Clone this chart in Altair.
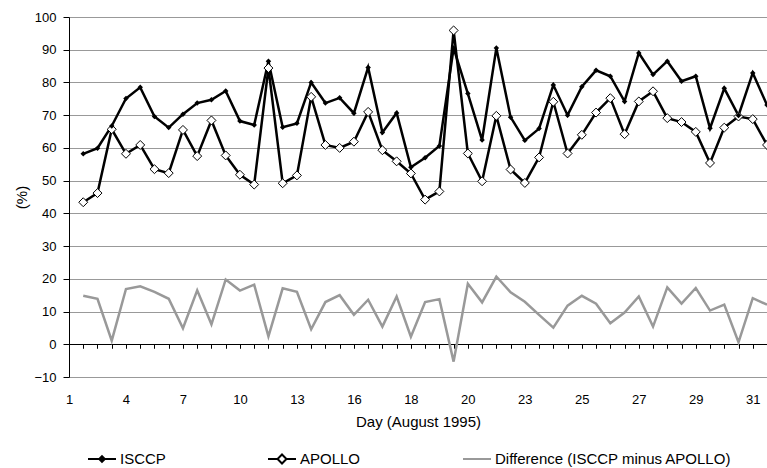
import altair as alt
import pandas as pd

day_labels = ["1", "4", "7", "10", "13", "16", "18", "20", "23", "25", "27", "29", "31"]
series_names = ["ISCCP", "APOLLO", "Difference (ISCCP minus APOLLO)"]
series_colors = ["black", "black", "#999999"]

isccp = [58.2, 59.9, 66.7, 75.1, 78.5, 69.6, 66.2, 70.3, 73.7, 74.7,
         77.4, 68.2, 67.0, 86.5, 66.3, 67.5, 80.0, 73.7, 75.3, 70.6,
         84.6, 64.7, 70.7, 54.1, 57.0, 60.6, 90.5, 76.6, 62.4, 90.5,
         69.4, 62.3, 65.9, 79.2, 70.0, 78.7, 83.7, 81.9, 74.2, 89.0,
         82.4, 86.5, 80.4, 81.9, 66.0, 78.2, 69.9, 82.9, 73.1]
apollo = [43.4, 46.2, 65.7, 58.2, 60.9, 53.5, 52.3, 65.5, 57.5, 68.4,
          57.7, 51.8, 48.8, 84.4, 49.2, 51.6, 75.6, 60.9, 60.0, 61.9,
          71.0, 59.3, 55.9, 52.2, 44.2, 46.7, 95.9, 58.3, 49.8, 69.8,
          53.4, 49.3, 57.1, 74.1, 58.3, 64.0, 70.8, 75.2, 64.2, 74.2,
          77.3, 69.1, 67.9, 64.9, 55.4, 66.2, 69.6, 68.8, 60.9]
diff = [14.8, 13.9, 1.1, 16.9, 17.7, 16.0, 13.9, 4.9, 16.5, 6.1,
        19.8, 16.4, 18.2, 2.4, 17.1, 16.0, 4.6, 12.9, 15.0, 9.0,
        13.6, 5.4, 14.6, 2.3, 12.9, 13.8, -5.3, 18.5, 12.8, 20.7,
        15.9, 13.0, 9.0, 5.1, 11.8, 14.8, 12.4, 6.4, 9.7, 14.6,
        5.4, 17.4, 12.4, 17.2, 10.3, 12.1, 0.6, 14.1, 12.1]

rows = []
for name, vals in zip(series_names, [isccp, apollo, diff]):
    for i, v in enumerate(vals):
        rows.append({"idx": i + 1, "series": name, "value": v})
df = pd.DataFrame(rows)

n = len(isccp)
label_arr = "[" + ",".join("'%s'" % d for d in day_labels) + "]"
label_expr = "datum.value % 4 == 0 ? " + label_arr + "[datum.value / 4] : ''"

FONT = "Liberation Sans"
H = 360
zero_off = H * 10.0 / 110.0

x_enc = alt.X(
    "idx:Q",
    scale=alt.Scale(domain=[0, n], nice=False, zero=False),
    axis=alt.Axis(
        values=list(range(0, n + 1)),
        labelExpr=label_expr,
        title="Day (August 1995)",
        domain=False,
        ticks=True,
        tickColor="black",
        tickSize=4,
        tickWidth=1,
        offset=-zero_off,
        labelPadding=45,
        labelFlush=False,
        labelOverlap=False,
        grid=False,
        labelFontSize=13,
        labelColor="black",
        titleFontSize=15,
        titleFontWeight="normal",
        titleColor="black",
        titlePadding=8,
    ),
)

y_enc = alt.Y(
    "value:Q",
    scale=alt.Scale(domain=[-10, 100], nice=False),
    axis=alt.Axis(
        values=list(range(-10, 101, 10)),
        title="(%)",
        grid=True,
        gridColor={"condition": {"test": "datum.value === 0", "value": "black"}, "value": "#999999"},
        gridWidth=1,
        domainColor="black",
        domainWidth=1,
        tickColor="black",
        tickSize=6,
        labelPadding=7,
        labelFontSize=13,
        labelColor="black",
        titleFontSize=15,
        titleFontWeight="normal",
        titleColor="black",
        titleX=-48,
        titleY=H / 2,
        titleAngle=270,
        titleAlign="center",
        titleBaseline="middle",
    ),
)

# legend symbols: line with marker (custom SVG paths in unit coordinates)
sym_paths = [
    "M-1,0L1,0M0,-0.2L0.2,0L0,0.2L-0.2,0Z",
    "M-1,0L-0.32,0M0.32,0L1,0M0,-0.32L0.32,0L0,0.32L-0.32,0Z",
    "M-1,0L1,0",
]
sym_fills = ["black", "white", "transparent"]
legend_x = [18, 198, 393]

base = alt.Chart(df)

line_layers = []
for name, col, path, fillc, lx in zip(series_names, series_colors, sym_paths, sym_fills, legend_x):
    lg = alt.Legend(
        orient="none",
        legendX=lx,
        legendY=427,
        direction="horizontal",
        title=None,
        labelFontSize=15,
        labelColor="black",
        labelLimit=400,
        symbolType=path,
        symbolSize=784,
        symbolStrokeWidth=2,
        symbolFillColor=fillc,
        symbolOpacity=1,
        labelOffset=3,
        padding=0,
    )
    line_layers.append(
        base.transform_filter(alt.datum.series == name).mark_line(strokeWidth=2.5).encode(
            x=x_enc,
            y=y_enc,
            color=alt.Color("series:N", scale=alt.Scale(domain=[name], range=[col]), legend=lg),
        )
    )

pts_isccp = base.transform_filter(alt.datum.series == "ISCCP").mark_point(
    shape="diamond", filled=True, color="black", size=30, opacity=1
).encode(x=x_enc, y=y_enc)

pts_apollo = base.transform_filter(alt.datum.series == "APOLLO").mark_point(
    shape="diamond", filled=True, fill="white", stroke="black", strokeWidth=1, size=80, opacity=1
).encode(x=x_enc, y=y_enc)

chart = alt.layer(line_layers[2], line_layers[1], line_layers[0], pts_apollo, pts_isccp).resolve_scale(
    color="independent"
).properties(
    width=698,
    height=H,
    padding={"left": 69, "top": 17, "right": 0, "bottom": 91},
    autosize=alt.AutoSizeParams(type="none"),
    background="white",
).configure(font=FONT).configure_view(strokeWidth=0)

chart.save("out.html", embed_options={"renderer": "svg", "actions": False})
